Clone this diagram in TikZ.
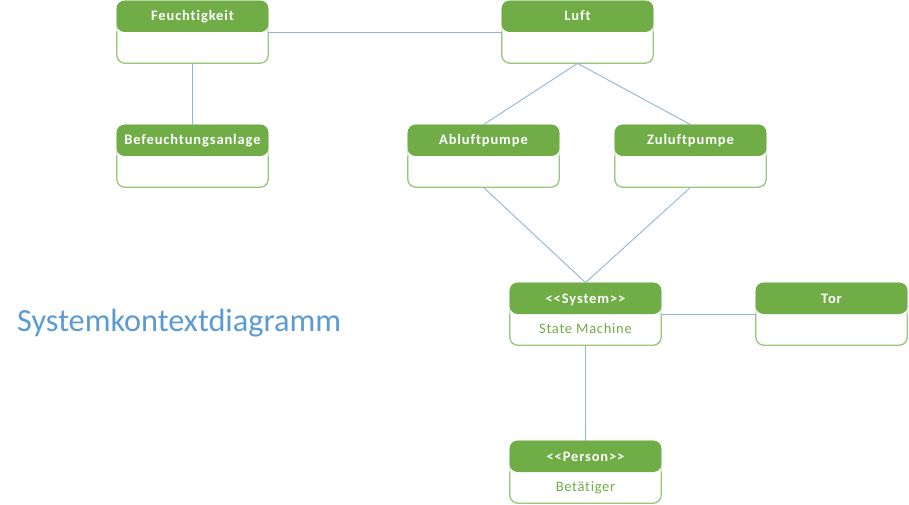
\documentclass[tikz,border=0pt]{standalone}
\usepackage{fontspec}
\setmainfont[Ligatures=NoCommon]{Carlito}
\definecolor{hgreen}{HTML}{70AD47}
\definecolor{bgreen}{HTML}{9BC77B}
\definecolor{lblue}{HTML}{5B9BD5}
\definecolor{cblue}{HTML}{8FB4DE}
\tikzset{
  umlbox/.style={draw=bgreen, line width=0.8pt, rounded corners=8pt, minimum width=151pt, minimum height=62pt, inner sep=0pt, fill=white},
  headtxt/.style={text=white, font=\fontsize{14.5}{16}\selectfont\bfseries\addfontfeatures{LetterSpace=6}, inner sep=0pt, anchor=base},
  bodytxt/.style={text=hgreen, font=\fontsize{14.5}{16}\selectfont\addfontfeatures{LetterSpace=5}, inner sep=0pt, anchor=base},
  conn/.style={draw=cblue, line width=0.9pt},
}
\newcommand{\umlbox}[5]{%
  \node[umlbox] (#1) at (#2+75.5,#3+31) {};
  \fill[hgreen, rounded corners=8pt] (#1.west) -- (#1.north west) -- (#1.north east) -- (#1.east) -- cycle;
  \draw[bgreen, line width=0.8pt, rounded corners=8pt] (#1.east) -- (#1.south east) -- (#1.south west) -- (#1.west);
  \node[headtxt] (#1-h) at (#2+75.5,#3+20) {#4};
  \node[bodytxt] (#1-b) at (#2+75.5,#3+50) {#5};
}
\begin{document}
\begin{tikzpicture}[x=1pt,y=-1pt]
\useasboundingbox (0,0) rectangle (909,505);
\umlbox{feu}{117}{1}{Feuchtigkeit}{}
\umlbox{luft}{502}{1}{Luft}{}
\umlbox{bef}{117}{125}{Befeuchtungsanlage}{}
\umlbox{abl}{408}{125}{Abluftpumpe}{}
\umlbox{zul}{615}{125}{Zuluftpumpe}{}
\umlbox{sys}{510}{283}{<{}<System>{}>}{State Machine}
\umlbox{tor}{756}{283}{Tor}{}
\umlbox{per}{510}{441}{<{}<Person>{}>}{Betätiger}
\draw[conn] (feu.east) -- (luft.west);
\draw[conn] (feu.south) -- (bef.north);
\draw[conn] (luft.south) -- (abl.north);
\draw[conn] (luft.south) -- (zul.north);
\draw[conn] (abl.south) -- (sys.north);
\draw[conn] (zul.south) -- (sys.north);
\draw[conn] (sys.east) -- (tor.west);
\draw[conn] (sys.south) -- (per.north);
\node[text=lblue, font=\fontsize{32.3}{36}\selectfont, anchor=base west, inner sep=0pt] (title) at (17,331) {Systemkontextdiagramm};
\end{tikzpicture}
\end{document}
